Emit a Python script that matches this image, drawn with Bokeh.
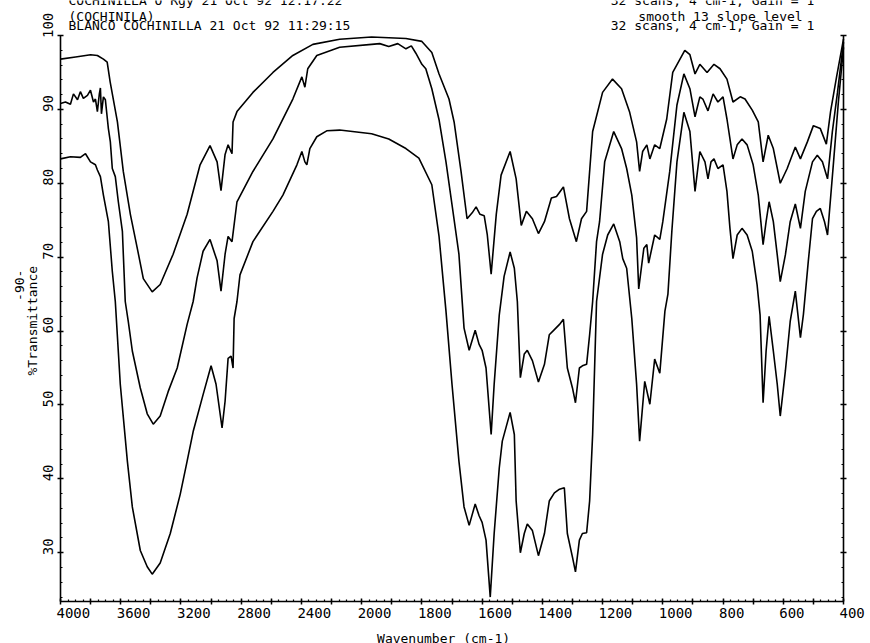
import math
from bokeh.plotting import figure
from bokeh.models import (ColumnDataSource, Range1d, FixedTicker, LinearAxis,
                          LabelSet, Label, CustomJSTransform)
from bokeh.transform import transform
from bokeh.embed import file_html
from bokeh.resources import INLINE
from bokeh.core.properties import value

# ---------------- data (wavenumber cm-1, %Transmittance) ----------------
A_w = [4000, 3900, 3800, 3755, 3715, 3690, 3670, 3622, 3583, 3536, 3490, 3450, 3391, 3338, 3252, 3159, 3073,
       3007, 2960, 2934, 2907, 2887, 2861, 2854, 2828, 2722, 2589, 2457, 2324, 2146, 1967, 1853, 1800, 1767,
       1743, 1710, 1693, 1670, 1650, 1633, 1620, 1607, 1593, 1583, 1570, 1553, 1537, 1507, 1487, 1470, 1453,
       1433, 1413, 1393, 1370, 1353, 1330, 1310, 1287, 1270, 1253, 1233, 1200, 1167, 1137, 1110, 1087, 1077,
       1067, 1053, 1043, 1027, 1010, 987, 967, 927, 910, 893, 877, 853, 830, 810, 787, 767, 743, 727, 703,
       683, 667, 650, 633, 610, 587, 560, 543, 520, 500, 477, 457, 443, 423, 400]
A_t = [96.8, 97.1, 97.4, 97.3, 96.8, 96.4, 93.7, 88.3, 81.6, 75.8, 71.2, 67.1, 65.3, 66.3, 70.4, 75.8, 82.5,
       85.1, 82.9, 79.0, 83.9, 85.2, 84.0, 88.3, 89.7, 92.3, 95.0, 97.3, 98.8, 99.5, 99.8, 99.6, 99.2, 97.7,
       94.8, 91.4, 88.3, 81.6, 75.2, 76.0, 76.8, 75.8, 75.6, 73.1, 67.7, 75.8, 81.1, 84.3, 80.6, 74.3, 76.2,
       75.2, 73.2, 74.8, 78.0, 78.2, 79.5, 75.2, 72.1, 75.2, 76.2, 87.0, 92.3, 94.1, 92.8, 89.6, 85.6, 81.6,
       84.3, 85.2, 83.3, 85.2, 84.7, 88.7, 95.0, 98.0, 97.4, 94.8, 96.1, 95.0, 96.1, 95.5, 94.1, 91.0, 91.7, 91.4,
       89.9, 88.3, 82.9, 86.5, 84.7, 80.0, 82.0, 84.9, 83.3, 85.6, 87.8, 87.4, 85.3, 89.7, 94.4, 99.5]

B_w = [4000, 3967, 3934, 3914, 3887, 3868, 3848, 3821, 3801, 3781, 3768, 3755, 3742, 3735, 3728, 3715, 3702,
       3682, 3669, 3656, 3636, 3616, 3589, 3570, 3550, 3523, 3470, 3424, 3384, 3338, 3285, 3225, 3159, 3119,
       3093, 3053, 3007, 2960, 2934, 2907, 2887, 2861, 2828, 2722, 2589, 2457, 2397, 2377, 2358, 2298, 2146,
       1967, 1940, 1910, 1880, 1853, 1835, 1820, 1800, 1787, 1767, 1743, 1720, 1700, 1677, 1660, 1643, 1623,
       1610, 1600, 1587, 1570, 1560, 1543, 1527, 1507, 1493, 1483, 1473, 1460, 1450, 1433, 1413, 1393, 1377,
       1360, 1343, 1330, 1317, 1300, 1290, 1277, 1267, 1253, 1243, 1233, 1220, 1210, 1193, 1163, 1137, 1120,
       1103, 1087, 1080, 1063, 1053, 1047, 1027, 1010, 1000, 977, 953, 930, 910, 893, 877, 867, 850, 833, 817,
       800, 787, 767, 753, 737, 720, 700, 683, 667, 657, 647, 633, 620, 610, 593, 577, 560, 543, 527, 503, 487,
       470, 453, 437, 420, 400]
B_t = [90.8, 91.0, 90.7, 92.1, 91.3, 92.4, 91.5, 91.9, 92.6, 91.0, 91.4, 89.7, 92.1, 92.9, 89.4, 91.7, 91.3,
       87.4, 85.6, 82.0, 80.9, 77.5, 73.5, 64.0, 61.3, 57.3, 52.3, 48.8, 47.4, 48.5, 51.8, 55.0, 60.9, 64.0,
       67.2, 70.8, 72.4, 69.5, 65.4, 70.4, 72.8, 72.1, 77.5, 81.6, 86.0, 91.4, 94.4, 93.0, 95.5, 97.3, 98.4,
       98.8, 98.9, 98.5, 98.9, 98.2, 98.6, 97.6, 96.1, 95.5, 92.8, 88.6, 82.9, 77.1, 70.4, 60.4, 57.4, 60.1,
       58.2, 57.4, 55.0, 46.0, 52.8, 62.2, 67.4, 70.7, 68.5, 64.0, 53.7, 56.9, 57.4, 56.0, 53.1, 55.5, 59.5,
       60.2, 60.9, 61.6, 55.0, 52.3, 50.3, 55.0, 55.3, 55.5, 59.5, 64.0, 72.1, 74.8, 82.9, 87.0, 84.7, 82.0,
       78.4, 72.6, 65.7, 71.2, 71.7, 69.2, 73.0, 72.4, 74.8, 81.6, 90.6, 94.8, 92.8, 89.0, 91.7, 91.4, 89.8, 92.1, 91.0,
       91.7, 88.7, 83.3, 85.2, 86.0, 85.2, 82.5, 78.4, 71.7, 74.8, 77.5, 74.8, 70.3, 66.7, 70.3, 74.8, 77.2, 73.9, 78.9, 82.9, 83.8,
       82.9, 80.6, 87.0, 92.3, 99.1]

C_w = [4000, 3934, 3868, 3834, 3801, 3768, 3755, 3735, 3715, 3682, 3656, 3636, 3603, 3556, 3523, 3470, 3424,
       3391, 3338, 3271, 3205, 3159, 3119, 3053, 3000, 2967, 2927, 2907, 2887, 2867, 2854, 2847, 2828, 2808,
       2722, 2589, 2523, 2430, 2397, 2377, 2364, 2344, 2298, 2232, 2146, 1967, 1910, 1853, 1810, 1767, 1743,
       1720, 1700, 1677, 1660, 1643, 1623, 1610, 1600, 1587, 1573, 1560, 1543, 1533, 1507, 1493, 1487, 1473,
       1460, 1450, 1433, 1413, 1393, 1377, 1360, 1343, 1327, 1317, 1300, 1290, 1277, 1267, 1253, 1243, 1233,
       1220, 1200, 1183, 1163, 1143, 1133, 1120, 1103, 1087, 1077, 1060, 1043, 1027, 1010, 993, 983, 970, 953,
       930, 910, 893, 877, 860, 850, 840, 830, 817, 800, 787, 777, 767, 753, 737, 720, 703, 687, 677, 667, 657,
       647, 633, 620, 610, 593, 577, 560, 543, 533, 517, 503, 490, 477, 463, 453, 433, 417, 400]
C_t = [83.3, 83.6, 83.5, 84.0, 82.9, 82.5, 81.8, 80.9, 78.4, 74.8, 68.1, 64.0, 52.8, 42.4, 36.2, 30.3, 28.1,
       27.1, 28.6, 32.6, 37.9, 42.4, 46.4, 51.4, 55.3, 52.8, 46.9, 50.5, 56.3, 56.6, 55.0, 61.7, 64.0, 67.6,
       72.1, 76.2, 78.4, 82.5, 84.3, 82.9, 82.5, 84.7, 86.3, 87.1, 87.2, 86.7, 86.0, 84.7, 83.4, 79.8, 72.8,
       62.7, 52.8, 42.4, 36.2, 33.7, 36.6, 35.0, 34.1, 31.7, 24.0, 32.6, 41.5, 45.1, 49.0, 46.0, 37.0, 30.0,
       32.6, 33.9, 33.0, 29.6, 32.6, 37.0, 38.1, 38.6, 38.8, 32.6, 29.4, 27.4, 31.7, 32.6, 32.7, 37.0, 46.0,
       64.0, 70.4, 73.0, 74.5, 72.1, 69.8, 68.5, 61.7, 52.8, 45.1, 53.2, 50.1, 56.2, 54.3, 62.7, 65.0, 73.5, 82.9,
       89.6, 87.0, 78.9, 84.3, 82.9, 80.6, 82.9, 83.3, 82.0, 82.5, 78.9, 73.9, 69.8, 73.0, 73.9, 73.0, 70.8, 66.3,
       62.2, 50.3, 57.3, 62.0, 57.3, 52.8, 48.5, 54.6, 61.3, 65.4, 59.1, 62.3, 69.4, 75.2, 76.2, 76.6, 74.8,
       73.0, 82.9, 91.0, 98.4]

X_TICK_W = [4000, 3600, 3200, 2800, 2400, 2000, 1800, 1600, 1400, 1200, 1000, 800, 600, 400]
X_TICK_LABELS = ["4000", "3600", "3200", "2800", "2400", "2000", "1800", "1600", "1400", "1200",
                 "1000", "800", "600", "400"]
Y_TICKS = [30, 40, 50, 60, 70, 80, 90, 100]
Y_TICK_LABELS = ["30", "40", "50", "60", "70", "80", "90", "100"]

HEADER_LEFT = ["COCHINILLA O Rgy 21 Oct 92 12:17:22", "(COCHINILA)", "BLANCO COCHINILLA 21 Oct 92 11:29:15"]
HEADER_RIGHT = ["32 scans, 4 cm-1, Gain = 1", "smooth 13 slope level", "32 scans, 4 cm-1, Gain = 1"]

for a, b in ((A_w, A_t), (B_w, B_t), (C_w, C_t)):
    assert len(a) == len(b)

# ---------------- axis break: 4000-2000 compressed x2, 2000-400 expanded ----------------
brk = CustomJSTransform(
    func="return x >= 2000 ? (4000 - x) / 2 : 1000 + (2000 - x);",
    v_func=("const r = new Float64Array(xs.length);"
            "for (let i = 0; i < xs.length; i++) { const x = xs[i];"
            " r[i] = x >= 2000 ? (4000 - x) / 2 : 1000 + (2000 - x); }"
            "return r;"))

FONT = "DejaVu Sans Mono"
U0, U1 = 0.0, 2600.0          # axis extent in break units
YMIN, YMAX = 23.4, 100.0      # axis extent in %T
# the frame covers the whole canvas; axes are drawn at fixed locations inside it
SX = 783.0 / (U1 - U0)        # px per break unit
SY = 566.0 / (YMAX - YMIN)    # px per %T
x_rng = Range1d(U0 - 60 / SX, U1 + 27 / SX)
y_rng = Range1d(YMIN - 42 / SY, YMAX + 35 / SY)

p = figure(width=870, height=643, output_backend="svg", toolbar_location=None,
           x_range=x_rng, y_range=y_rng, x_axis_type=None, y_axis_type=None,
           min_border=0, min_border_left=0, min_border_right=0, min_border_top=0, min_border_bottom=0)
p.outline_line_color = None
p.background_fill_color = "white"
p.border_fill_color = "white"

major_u = [float(v) for v in range(0, 2601, 100)]
minor_u = [float(v) for v in range(0, 2601, 25)]
ymaj = [float(v) for v in range(30, 101, 10)]
ymin_t = [float(v) for v in range(24, 101, 2)]
xaxis = LinearAxis(ticker=FixedTicker(ticks=major_u, minor_ticks=minor_u),
                   fixed_location=YMIN, bounds=(U0, U1))
yl = LinearAxis(ticker=FixedTicker(ticks=ymaj, minor_ticks=ymin_t), fixed_location=U0, bounds=(YMIN, YMAX))
yr = LinearAxis(ticker=FixedTicker(ticks=ymaj, minor_ticks=ymin_t), fixed_location=U1, bounds=(YMIN, YMAX))
for ax in (xaxis, yl, yr):
    ax.major_label_text_font_size = "0px"
    ax.major_label_text_alpha = 0
    ax.axis_line_width = 1.6
    ax.axis_line_color = "black"
    ax.major_tick_in = 3
    ax.major_tick_out = 3
    ax.minor_tick_in = 2
    ax.minor_tick_out = 0
    ax.major_tick_line_width = 1.5
    ax.minor_tick_line_width = 1.2
    ax.major_tick_line_color = "black"
    ax.minor_tick_line_color = "black"
p.add_layout(xaxis, "below")
p.add_layout(yl, "left")
p.add_layout(yr, "right")

for w, t in ((A_w, A_t), (B_w, B_t), (C_w, C_t)):
    src = ColumnDataSource(dict(w=w, t=t))
    p.line(x=transform("w", brk), y="t", source=src, line_color="black", line_width=1.6)

# x tick labels (plotter style: text starts at the tick)
xl_src = ColumnDataSource(dict(w=X_TICK_W, y=[YMIN] * len(X_TICK_W), text=X_TICK_LABELS))
p.add_layout(LabelSet(x=transform("w", brk), y="y", text="text", source=xl_src,
                      x_offset=-4, y_offset=-16, text_align="left", text_baseline="alphabetic",
                      text_font=value(FONT), text_font_size="14px", text_color="black"))
# y tick labels, rotated, reading upward starting just below the tick
CHAR_W = 8.43
for yv, txt in zip(Y_TICKS, Y_TICK_LABELS):
    p.add_layout(Label(x=U0, y=yv, x_offset=-12.5, y_offset=len(txt) * CHAR_W / 2 - 2.5, text=txt,
                       angle=math.pi / 2, text_align="center", text_baseline="middle",
                       text_font=FONT, text_font_size="14px", text_color="black"))

# header
for txt, off in zip(HEADER_LEFT, (35, 19, 10)):
    p.add_layout(Label(x=U0, y=YMAX, x_offset=8, y_offset=off, text=txt, text_align="left",
                       text_baseline="alphabetic", text_font=FONT, text_font_size="13px",
                       text_color="black"))
for txt, off, dx in zip(HEADER_RIGHT, (35, 19, 10), (-131, -123, -131)):
    p.add_layout(Label(x=U1, y=YMAX, x_offset=dx, y_offset=off, text=txt, text_align="center",
                       text_baseline="alphabetic", text_font=FONT, text_font_size="13px",
                       text_color="black"))

# axis titles
p.add_layout(Label(x=U0, y=61.4, x_offset=-28.5, text="%Transmittance", angle=math.pi / 2,
                   text_align="center", text_baseline="middle", text_font=FONT,
                   text_font_size="13px", text_color="black"))
p.add_layout(Label(x=U0, y=66.2, x_offset=-41.5, text="-90-", angle=math.pi / 2,
                   text_align="center", text_baseline="middle", text_font=FONT,
                   text_font_size="13px", text_color="black"))
p.add_layout(Label(x=U0, y=YMIN, x_offset=387, y_offset=-37, text="Wavenumber  (cm-1)",
                   text_align="center", text_baseline="alphabetic", text_font=FONT,
                   text_font_size="13px", text_color="black"))

open("out.html", "w").write(file_html(p, INLINE))
